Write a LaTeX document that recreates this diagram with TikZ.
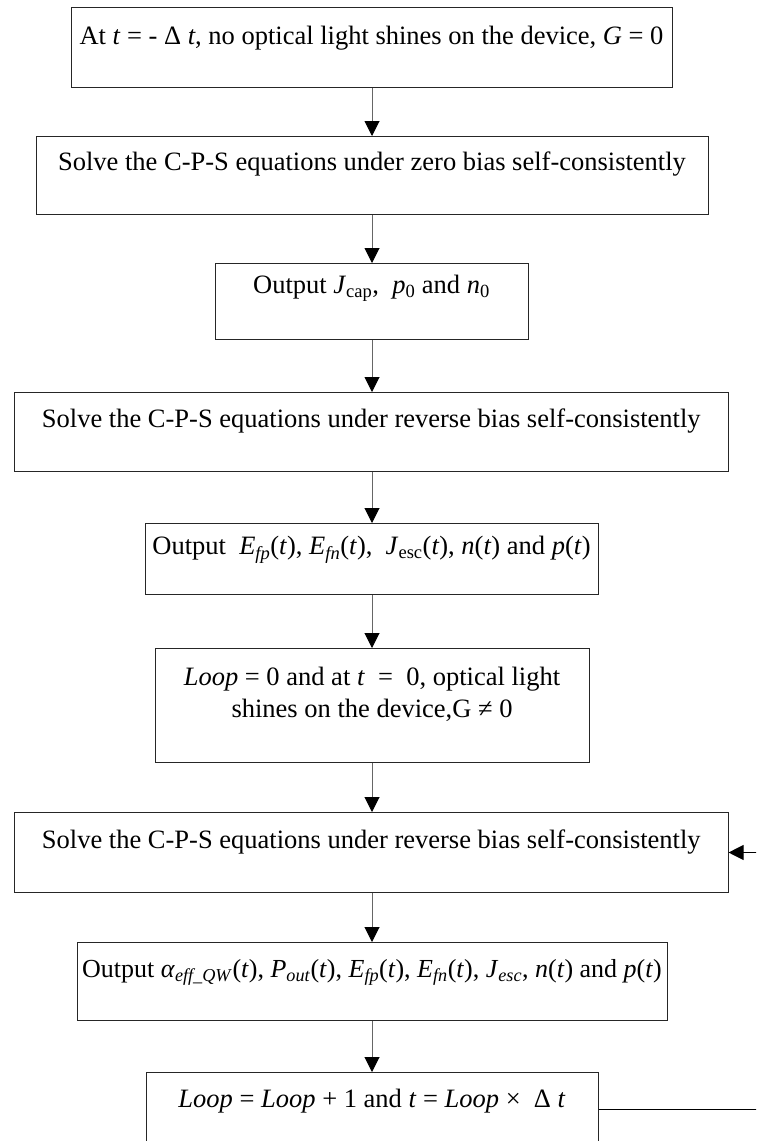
\documentclass[tikz,border=0pt]{standalone}
\usepackage{fontspec}
\setmainfont{Liberation Serif}
\usetikzlibrary{arrows.meta}
\newcommand{\iv}[1]{\textit{#1}}
\newcommand{\rsub}[1]{\textsubscript{#1}}
\newcommand{\isub}[1]{\textsubscript{\textit{#1}}}
\tikzset{
  box/.style={draw=black!85, line width=1pt, anchor=north, inner xsep=0pt, inner ysep=0pt, align=center,
    font=\fontsize{26.5}{32}\selectfont},
  arr/.style={draw=black!60, line width=1pt, -{Triangle[length=15pt,width=15pt,color=black]}},
  link/.style={draw=black, line width=1pt}
}
\newcommand{\strt}[2]{\rule[-#2pt]{0pt}{\dimexpr #1pt+#2pt\relax}}
\begin{document}
\begin{tikzpicture}[x=1pt,y=-1pt]
\useasboundingbox (0,0) rectangle (756,1141);
\clip (0,0) rectangle (756,1141);
\node[box, minimum width=601pt] (b1) at (371.5,7)
  {\strt{37}{43}At \iv{t} = - Δ \iv{t}, no optical light shines on the device, \iv{G} = 0};
\node[box, minimum width=672pt] (b2) at (372,136)
  {\strt{34}{44}Solve the C-P-S equations under zero bias self-consistently};
\node[box, minimum width=313pt] (b3) at (371.5,263)
  {\strt{30}{46}Output \iv{J}\rsub{cap},\ \ \iv{p}\rsub{0} and \iv{n}\rsub{0}};
\node[box, minimum width=713.5pt] (b4) at (371.3,392)
  {\strt{35}{44}Solve the C-P-S equations under reverse bias self-consistently};
\node[box, minimum width=453pt] (b5) at (371.5,523)
  {\strt{31}{40}Output\ \ \iv{E}\isub{fp}(\iv{t}), \iv{E}\isub{fn}(\iv{t}),\ \ \iv{J}\rsub{esc}(\iv{t}), \iv{n}(\iv{t}) and \iv{p}(\iv{t})};
\node[box, minimum width=434pt] (b6) at (372,648)
  {\strt{37}{6}\iv{Loop} = 0 and at \iv{t}\ \ =\ \ 0, optical light\\ shines on the device,G ≠ 0\strt{20}{45}};
\node[box, minimum width=713.5pt] (b7) at (371.3,812)
  {\strt{36}{44}Solve the C-P-S equations under reverse bias self-consistently};
\node[box, minimum width=590pt, font=\fontsize{26}{32}\selectfont] (b8) at (372,942)
  {\strt{35}{43}Output \iv{α}\isub{eff\_QW}(\iv{t}), \iv{P}\isub{out}(\iv{t}), \iv{E}\isub{fp}(\iv{t}), \iv{E}\isub{fn}(\iv{t}), \iv{J}\isub{esc}, \iv{n}(\iv{t}) and \iv{p}(\iv{t})};
\node[box, minimum width=452pt] (b9) at (372,1072)
  {\strt{35}{39}\iv{Loop} = \iv{Loop} + 1 and \iv{t} = \iv{Loop} ×\ \ Δ \iv{t}};
\coordinate (c1) at (372,0);
\draw[arr] (c1 |- b1.south) -- (c1 |- b2.north);
\draw[arr] (c1 |- b2.south) -- (c1 |- b3.north);
\draw[arr] (c1 |- b3.south) -- (c1 |- b4.north);
\draw[arr] (c1 |- b4.south) -- (c1 |- b5.north);
\draw[arr] (c1 |- b5.south) -- (c1 |- b6.north);
\draw[arr] (c1 |- b6.south) -- (c1 |- b7.north);
\draw[arr] (c1 |- b7.south) -- (c1 |- b8.north);
\draw[arr] (c1 |- b8.south) -- (c1 |- b9.north);
\coordinate (r) at (762,0);
\draw[link] (b9.east) -- (r |- b9.east) -- (r |- b7.east);
\draw[arr, draw=black] (r |- b7.east) -- (b7.east);
\end{tikzpicture}
\end{document}
